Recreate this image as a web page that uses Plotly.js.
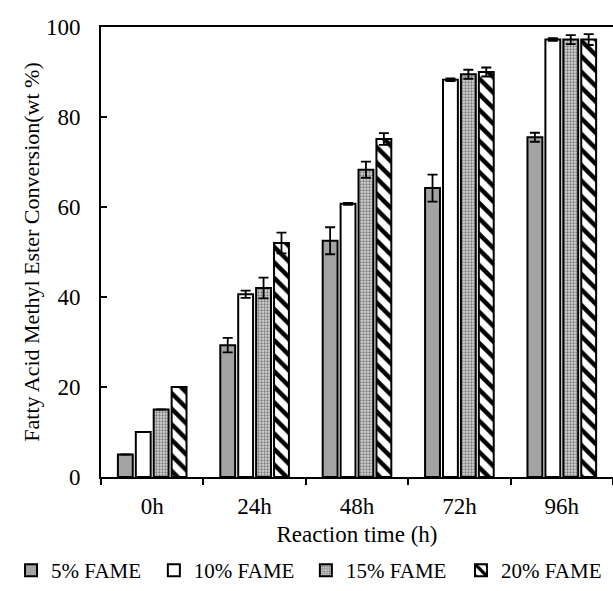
<!DOCTYPE html>
<html>
<head>
<meta charset="utf-8">
<script src="https://cdn.plot.ly/plotly-3.0.1.min.js"></script>
<style>html,body{margin:0;padding:0;background:#fff;}#chart{width:613px;height:591px;}</style>
</head>
<body>
<div id="chart"></div>
<script>
const categories = ["0h", "24h", "48h", "72h", "96h"];
const seriesNames = ["5% FAME", "10% FAME", "15% FAME", "20% FAME"];
const fame5 = [5, 29.3, 52.5, 64.2, 75.5];
const fame10 = [10, 40.6, 60.7, 88.3, 97.2];
const fame15 = [15, 42, 68.3, 89.5, 97.2];
const fame20 = [20, 52, 75.1, 90, 97.2];
const err5 = [0, 1.6, 3, 3, 1];
const err10 = [0, 0.8, 0.2, 0.3, 0.3];
const err15 = [0, 2.3, 1.8, 1, 1];
const err20 = [0, 2.3, 1.3, 1, 1.2];
const yTicks = [0, 20, 40, 60, 80, 100];

const font = "Liberation Serif, Times New Roman, serif";
const line = {color: "#000", width: 2};
const eb = (arr) => ({type: "data", array: arr, visible: true, color: "#000", thickness: 1.8, width: 5});

const traces = [
  {name: seriesNames[0], x: categories, y: fame5, error_y: eb(err5), legend: "legend",
   marker: {color: "#a3a3a3", line: line}},
  {name: seriesNames[1], x: categories, y: fame10, error_y: eb(err10), legend: "legend2",
   marker: {color: "#ffffff", line: line}},
  {name: seriesNames[2], x: categories, y: fame15, error_y: eb(err15), legend: "legend3",
   marker: {color: "#cfcfcf", line: line, pattern: {shape: ".", size: 3, solidity: 0.45, fgcolor: "#7a7a7a", bgcolor: "#d6d6d6", fillmode: "replace"}}},
  {name: seriesNames[3], x: categories, y: fame20, error_y: eb(err20), legend: "legend4",
   marker: {color: "#ffffff", line: line, pattern: {shape: "\\", size: 11, solidity: 0.4, fgcolor: "#000", bgcolor: "#fff", fillmode: "replace"}}}
].map(t => Object.assign({type: "bar"}, t));

const legendBase = (x) => ({orientation: "h", xref: "container", yref: "container", x: x, y: -0.029,
  xanchor: "left", yanchor: "bottom", bgcolor: "rgba(0,0,0,0)",
  font: {family: font, size: 21, color: "#000"}, itemwidth: 30});

const layout = {
  width: 613, height: 591,
  margin: {l: 101, r: 0, t: 27, b: 114},
  paper_bgcolor: "#fff", plot_bgcolor: "#fff",
  barmode: "group", bargap: 0.3, bargroupgap: 0.17,
  font: {family: font, size: 20, color: "#000"},
  showlegend: true,
  legend: legendBase(0.018),
  legend2: legendBase(0.251),
  legend3: legendBase(0.499),
  legend4: legendBase(0.752),
  xaxis: {
    type: "category", showline: true, linecolor: "#000", linewidth: 2, mirror: true,
    ticks: "outside", tickson: "boundaries", ticklen: 6, tickwidth: 2, tickcolor: "#000",
    showgrid: false, zeroline: false, ticklabelstandoff: 7, automargin: true,
    tickfont: {family: font, size: 23},
    title: {text: "Reaction time (h)", font: {family: font, size: 23}, standoff: 8}
  },
  yaxis: {
    range: [0, 100], tickvals: yTicks, ticktext: yTicks.map(String),
    showline: true, linecolor: "#000", linewidth: 2, automargin: true,
    ticks: "inside", ticklen: 6, tickwidth: 2, tickcolor: "#000",
    showgrid: false, zeroline: false, ticklabelstandoff: 14,
    tickfont: {family: font, size: 23},
    title: {text: "Fatty Acid Methyl Ester Conversion(wt %)", font: {family: font, size: 22}, standoff: 0}
  }
};

Plotly.newPlot("chart", traces, layout, {displayModeBar: false, staticPlot: true});
</script>
</body>
</html>
